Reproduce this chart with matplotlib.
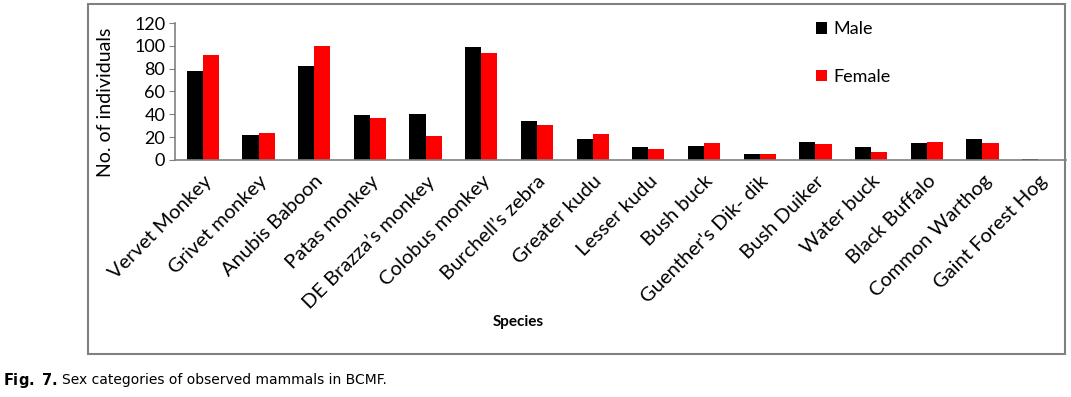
import matplotlib
matplotlib.use("Agg")
import matplotlib.pyplot as plt
from matplotlib.patches import Rectangle
import numpy as np

species = ["Vervet Monkey", "Grivet monkey", "Anubis Baboon", "Patas monkey",
           "DE Brazza\u2019s monkey", "Colobus monkey", "Burchell\u2019s zebra",
           "Greater kudu", "Lesser kudu", "Bush buck", "Guenther's Dik- dik",
           "Bush Duiker", "Water buck", "Black Buffalo", "Common Warthog",
           "Gaint Forest Hog"]
male = [78, 22, 82, 39, 40, 99, 34, 18, 11, 12, 5, 16, 11, 15, 18, 1]
female = [92, 24, 100, 37, 21, 94, 31, 23, 10, 15, 5, 14, 7, 16, 15, 0]
yticks = [0, 20, 40, 60, 80, 100, 120]

FONT = ["Lato", "DejaVu Sans"]
fig = plt.figure(figsize=(10.71, 3.97), dpi=100)
W, H = 1071, 397

# outer frame
fig.patches.append(Rectangle((88 / W, 1 - 354 / H), (1065 - 88) / W, (354 - 4) / H,
                             transform=fig.transFigure, fill=False,
                             edgecolor="#808080", linewidth=1.5))

ax = fig.add_axes([175 / W, 1 - 160 / H, (1066 - 175) / W, (160 - 23) / H])
x = np.arange(len(species))
w = 0.29
ax.bar(x - w / 2, male, w, color="black", label="Male")
ax.bar(x + w / 2, female, w, color="#ff0000", label="Female")
ax.set_xlim(-0.5, len(species) - 0.5)
ax.set_ylim(0, 120)
ax.set_yticks(yticks)
ax.set_yticklabels([str(t) for t in yticks], fontsize=13, family=FONT)
ax.set_xticks(x)
ax.set_xticklabels(species, rotation=45, ha="right", rotation_mode="anchor",
                   fontsize=14.5, family=FONT)
ax.tick_params(axis="x", length=0, pad=9)
ax.tick_params(axis="y", length=4, color="#808080", pad=3)
for s in ["top", "right"]:
    ax.spines[s].set_visible(False)
for s in ["left", "bottom"]:
    ax.spines[s].set_color("#808080")
    ax.spines[s].set_linewidth(1.2)
ax.set_ylabel("No. of individuals", fontsize=14, family=FONT)
ax.yaxis.set_label_coords(114 / W, 1 - 102 / H, transform=fig.transFigure)
fig.text(518 / W, 1 - 322 / H, "Species", fontsize=11, fontweight="bold",
         family=FONT, ha="center", va="center")

leg = ax.legend(loc="upper left", bbox_to_anchor=(800 / W, 1 - 5 / H),
                bbox_transform=fig.transFigure, frameon=False,
                prop={"family": FONT, "size": 13}, labelspacing=1.75,
                handlelength=0.6, handleheight=0.6, handletextpad=0.35)

fig.text(3 / W, 1 - 380 / H, r"$\bf{Fig.\ 7.}$", fontsize=10.5, va="center",
         family="DejaVu Sans")
fig.text(62 / W, 1 - 380 / H, "Sex categories of observed mammals in BCMF.",
         fontsize=10, va="center", family="DejaVu Sans")

fig.savefig("out.png", dpi=100)
